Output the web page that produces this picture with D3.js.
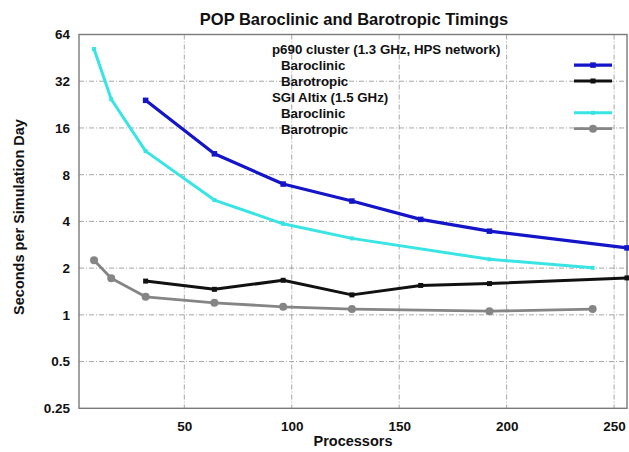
<!DOCTYPE html>
<html>
<head>
<meta charset="utf-8">
<script src="https://cdn.jsdelivr.net/npm/d3@7"></script>
<style>
  html, body { margin: 0; padding: 0; background: #fff; }
  svg { display: block; font-family: "Liberation Sans", Arial, Helvetica, sans-serif; }
</style>
</head>
<body>
<svg id="chart" width="629" height="452"></svg>
<script>
// POP timings: seconds per simulated day vs. processor count
const p690Procs = [32, 64, 96, 128, 160, 192, 256];
const p690Baroclinic = [24.1, 10.9, 6.96, 5.41, 4.12, 3.46, 2.70];
const p690Barotropic = [1.65, 1.46, 1.67, 1.345, 1.547, 1.59, 1.73];

const altixProcs = [8, 16, 32, 64, 96, 128, 192, 240];
const altixBaroclinic = [51.6, 24.5, 11.35, 5.49, 3.86, 3.11, 2.28, 2.01];
const altixBarotropic = [2.25, 1.72, 1.306, 1.195, 1.126, 1.09, 1.056, 1.09];

const xTicks = [50, 100, 150, 200, 250];
const yTicks = [0.25, 0.5, 1, 2, 4, 8, 16, 32, 64];
const yTickLabels = ["0.25", "0.5", "1", "2", "4", "8", "16", "32", "64"];

const legendGroups = [
  { heading: "p690 cluster (1.3 GHz, HPS network)", items: [
      { label: "Baroclinic", key: "p690Bc" },
      { label: "Barotropic", key: "p690Bt" } ] },
  { heading: "SGI Altix (1.5 GHz)", items: [
      { label: "Baroclinic", key: "altixBc" },
      { label: "Barotropic", key: "altixBt" } ] }
];

const series = [
  { key: "altixBc", x: altixProcs, y: altixBaroclinic, color: "#38e4e4", width: 3, marker: "square", size: 4 },
  { key: "altixBt", x: altixProcs, y: altixBarotropic, color: "#858585", width: 2.8, marker: "circle", size: 4 },
  { key: "p690Bc", x: p690Procs, y: p690Baroclinic, color: "#1414c8", width: 3.2, marker: "square", size: 5.5 },
  { key: "p690Bt", x: p690Procs, y: p690Barotropic, color: "#111111", width: 3, marker: "square", size: 5 }
];
const styleByKey = Object.fromEntries(series.map(s => [s.key, s]));

const svg = d3.select("#chart");
const plot = { left: 79, right: 627, top: 34.5, bottom: 408.3 };

const x = d3.scaleLinear().domain([1, 256]).range([plot.left, plot.right]);
const y = d3.scaleLog().base(2).domain([0.25, 64]).range([plot.bottom, plot.top]);

// grid
const grid = svg.append("g").attr("stroke", "#8f8f8f").attr("stroke-width", 0.8)
  .attr("stroke-dasharray", "5,2,1,2");
grid.selectAll("line.v").data(xTicks).join("line")
  .attr("x1", d => x(d)).attr("x2", d => x(d))
  .attr("y1", plot.top).attr("y2", plot.bottom);
grid.selectAll("line.h").data(yTicks.slice(1, -1)).join("line")
  .attr("x1", plot.left).attr("x2", plot.right)
  .attr("y1", d => y(d)).attr("y2", d => y(d));

// frame
svg.append("rect")
  .attr("x", plot.left).attr("y", plot.top)
  .attr("width", plot.right - plot.left).attr("height", plot.bottom - plot.top)
  .attr("fill", "none").attr("stroke", "#7a7a7a").attr("stroke-width", 1.4);

// axes (labels only; frame drawn above)
const xAxis = d3.axisBottom(x).tickValues(xTicks).tickSize(0).tickPadding(13);
svg.append("g").attr("transform", `translate(0,${plot.bottom})`).call(xAxis)
  .call(g => g.select(".domain").remove())
  .selectAll("text").attr("font-size", 13.5).attr("font-weight", "bold")
  .attr("font-family", "Liberation Sans, Arial, sans-serif").attr("fill", "#111");

const yAxis = d3.axisLeft(y).tickValues(yTicks).tickSize(0).tickPadding(9)
  .tickFormat((d, i) => yTickLabels[i]);
svg.append("g").attr("transform", `translate(${plot.left},0)`).call(yAxis)
  .call(g => g.select(".domain").remove())
  .selectAll("text").attr("font-size", 13.5).attr("font-weight", "bold")
  .attr("font-family", "Liberation Sans, Arial, sans-serif").attr("fill", "#111");

// titles
svg.append("text").attr("x", 354).attr("y", 25).attr("text-anchor", "middle")
  .attr("font-size", 16.5).attr("font-weight", "bold").attr("fill", "#111")
  .text("POP Baroclinic and Barotropic Timings");
svg.append("text").attr("x", 353).attr("y", 446).attr("text-anchor", "middle")
  .attr("font-size", 14.5).attr("font-weight", "bold").attr("fill", "#111")
  .text("Processors");
svg.append("text").attr("transform", "translate(24,217) rotate(-90)")
  .attr("text-anchor", "middle")
  .attr("font-size", 14.5).attr("font-weight", "bold").attr("fill", "#111")
  .text("Seconds per Simulation Day");

// series
const line = d3.line().x(d => x(d[0])).y(d => y(d[1]));
function drawMarker(g, s, cx, cy) {
  if (s.marker === "circle") {
    g.append("circle").attr("cx", cx).attr("cy", cy).attr("r", s.size).attr("fill", s.color);
  } else {
    g.append("rect").attr("x", cx - s.size / 2).attr("y", cy - s.size / 2)
      .attr("width", s.size).attr("height", s.size).attr("fill", s.color);
  }
}
series.forEach(s => {
  const pts = s.x.map((v, i) => [v, s.y[i]]);
  const g = svg.append("g");
  g.append("path").datum(pts).attr("d", line)
    .attr("fill", "none").attr("stroke", s.color).attr("stroke-width", s.width)
    .attr("stroke-linejoin", "round");
  pts.forEach(p => drawMarker(g, s, x(p[0]), y(p[1])));
});

// legend
const legend = svg.append("g").attr("font-size", 13.3).attr("font-weight", "bold").attr("fill", "#111");
let row = 0;
const rowY = r => 54 + r * 15.9;
legendGroups.forEach(grp => {
  legend.append("text").attr("x", 272).attr("y", rowY(row)).text(grp.heading);
  row++;
  grp.items.forEach(it => {
    const s = styleByKey[it.key];
    legend.append("text").attr("x", 281).attr("y", rowY(row)).text(it.label);
    const ly = rowY(row) - 4.8;
    legend.append("line").attr("x1", 574).attr("x2", 612).attr("y1", ly).attr("y2", ly)
      .attr("stroke", s.color).attr("stroke-width", s.width);
    drawMarker(legend, s, 593, ly);
    row++;
  });
});
</script>
</body>
</html>
